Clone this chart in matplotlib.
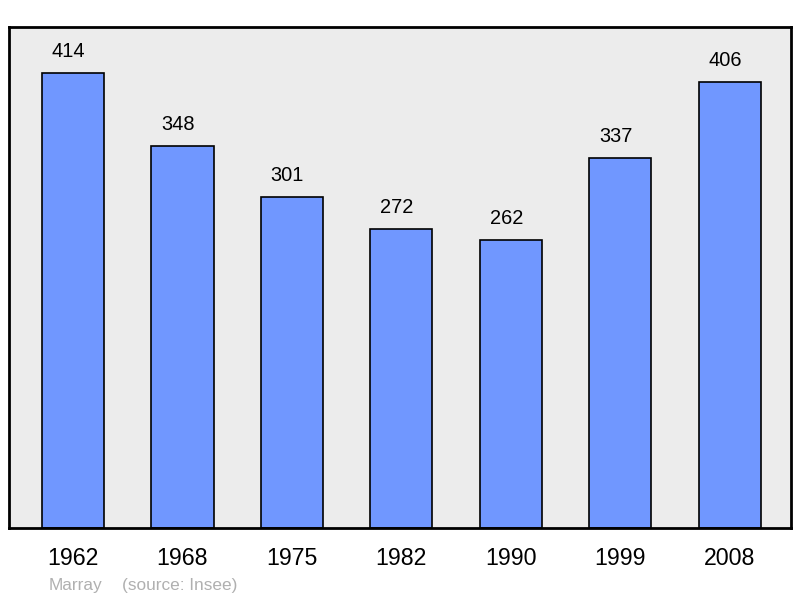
import matplotlib.pyplot as plt

plt.rcParams['font.family'] = ['Liberation Sans', 'DejaVu Sans']

years = ['1962', '1968', '1975', '1982', '1990', '1999', '2008']
population = [414, 348, 301, 272, 262, 337, 406]

fig = plt.figure(figsize=(8, 5.98), dpi=100)
ax = fig.add_axes([9/800, 70/598, 782/800, 501/598])
ax.set_facecolor('#ececec')

x = range(len(years))
bars = ax.bar(x, population, width=0.567, color='#7097ff', edgecolor='black', linewidth=1.2)

for xi, v in zip(x, population):
    ax.annotate(str(v), (xi, v), xytext=(-3.2, 11.5), textcoords='offset points',
                ha='center', va='baseline', fontsize=14.4)

ax.set_xlim(-0.585, 6.56)
ax.set_ylim(0, 456)
ax.set_xticks(list(x))
ax.set_xticklabels(years, fontsize=16.7)
ax.tick_params(axis='x', length=0, pad=13.5)
ax.set_yticks([])
for s in ax.spines.values():
    s.set_linewidth(2)

fig.text(49/800, 1 - 590/598, 'Marray', color='#b0b0b0', fontsize=12.4, va='baseline')
fig.text(122/800, 1 - 590/598, '(source: Insee)', color='#b0b0b0', fontsize=12.4, va='baseline')

fig.savefig('out.png', dpi=100)
